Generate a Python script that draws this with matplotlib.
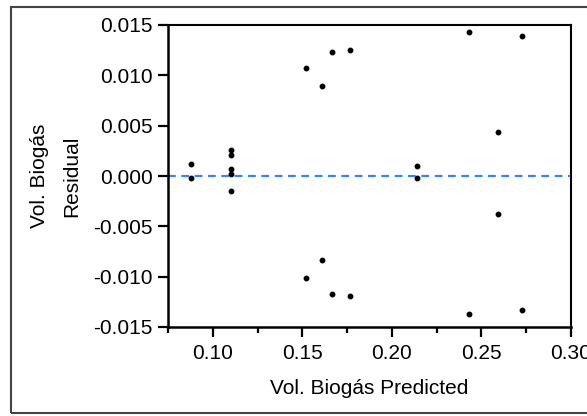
import matplotlib
matplotlib.use("Agg")
import matplotlib.pyplot as plt
from matplotlib.patches import Rectangle
from matplotlib.ticker import MultipleLocator

# predicted values and residuals
predicted = [0.088, 0.088,
             0.110, 0.110, 0.110, 0.110, 0.110,
             0.152, 0.152, 0.161, 0.161, 0.1665, 0.1665, 0.1767, 0.1767,
             0.214, 0.214,
             0.2433, 0.2433, 0.259, 0.259, 0.2725, 0.2725]
residual = [0.0012, -0.0002,
            0.0026, 0.0021, 0.0007, 0.0002, -0.0015,
            0.0107, -0.0101, 0.0089, -0.0083, 0.0123, -0.0117, 0.0125, -0.0119,
            0.0010, -0.0002,
            0.0143, -0.0137, 0.0044, -0.0038, 0.0139, -0.0133]

x_ticks = [0.10, 0.15, 0.20, 0.25, 0.30]
x_ticklabels = ['0.10', '0.15', '0.20', '0.25', '0.30']
y_ticks = [-0.015, -0.010, -0.005, 0.0, 0.005, 0.010, 0.015]
y_ticklabels = ['-0.015', '-0.010', '-0.005', '0.000', '0.005', '0.010', '0.015']

plt.rcParams['font.family'] = ['Liberation Sans', 'DejaVu Sans']

fig = plt.figure(figsize=(5.87, 4.16), dpi=100)
ax = fig.add_axes([168 / 587, 1 - 327 / 416, (571 - 168) / 587, (327 - 25) / 416])

# outer frame of the exported graph
fig.patches.append(Rectangle((11 / 587, 3 / 416), 1.2, 406 / 416, transform=fig.transFigure,
                             fill=False, edgecolor='#444444', linewidth=1.5))

ax.axhline(0, color='#3a86f0', linestyle=(0, (3.5, 2.5)), linewidth=1.6, zorder=1)
ax.plot(predicted, residual, 'o', color='black', markersize=3.2, zorder=3)

ax.set_xlim(0.075, 0.30)
ax.set_ylim(-0.015, 0.015)
ax.xaxis.set_minor_locator(MultipleLocator(0.025))
ax.set_xticks(x_ticks)
ax.set_xticklabels(x_ticklabels)
ax.set_yticks(y_ticks)
ax.set_yticklabels(y_ticklabels)

for side in ['left', 'bottom']:
    ax.spines[side].set_linewidth(1.8)
for side in ['top', 'right']:
    ax.spines[side].set_linewidth(1.5)

ax.tick_params(axis='both', which='major', length=7, width=1.6, labelsize=15)
ax.tick_params(axis='y', which='major', pad=4)
ax.tick_params(axis='x', which='major', pad=5)
ax.tick_params(axis='x', which='minor', length=4, width=1.6)

ax.set_xlabel('Vol. Biogás Predicted', fontsize=15)
ax.xaxis.set_label_coords(0.5, -0.172)
ax.set_ylabel('Vol. Biogás\nResidual', fontsize=15, linespacing=1.9)
ax.yaxis.set_label_coords(-0.215, 0.5)

fig.savefig('out.png', dpi=100)
